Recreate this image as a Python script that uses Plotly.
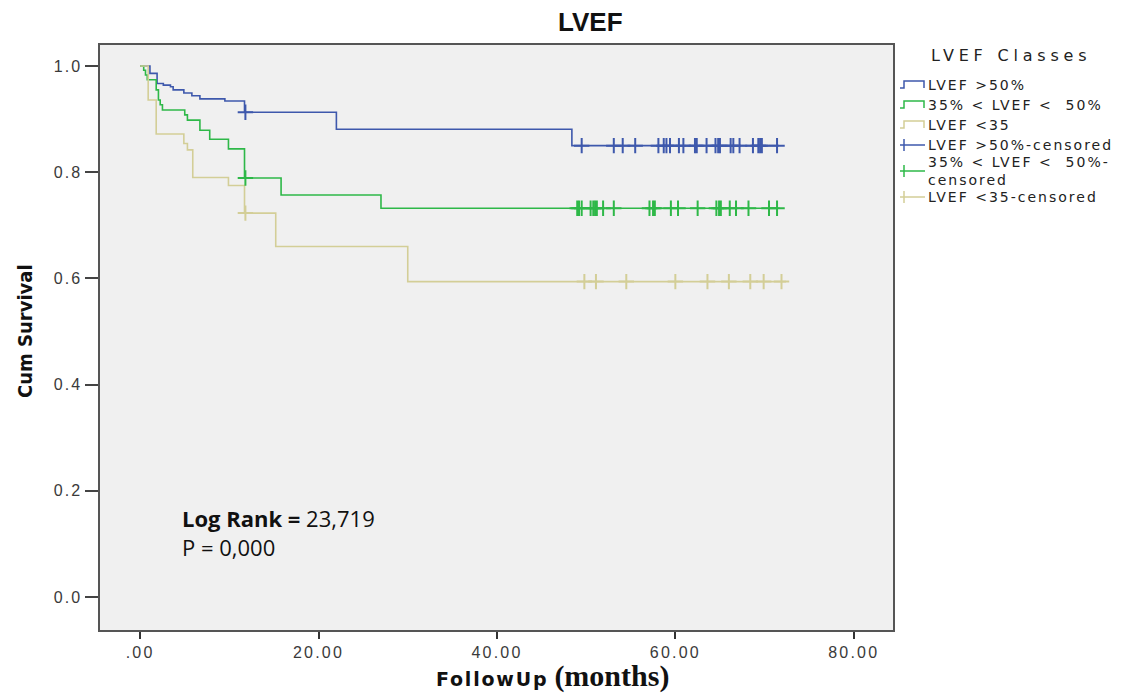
import numpy as np
import plotly.graph_objects as go

# ---------------- data ----------------
categories = ["LVEF >50%", "35% < LVEF <  50%", "LVEF <35"]
colors = ["#3E58AC", "#2EB848", "#D3CE97"]

blue_t = [0, 1.1, 1.9, 2.6, 3.4, 3.7, 4.9, 5.8, 6.7, 9.5, 11.7, 22.0, 48.4]
blue_s = [1.0, 0.986, 0.967, 0.964, 0.961, 0.955, 0.949, 0.944, 0.938, 0.934, 0.913, 0.881, 0.850]
blue_end = 71.6
blue_cens = [11.8, 49.5, 53.1, 54.1, 55.5, 58.1, 58.7, 59.0, 59.4, 60.4, 60.9, 62.2, 62.4,
             63.5, 64.5, 64.8, 65.0, 66.2, 66.5, 67.2, 68.7, 69.3, 69.5, 69.7, 71.4]

green_t = [0, 0.4, 0.6, 0.8, 1.8, 2.05, 2.25, 2.5, 5.0, 5.3, 6.7, 7.8, 9.9, 11.7, 15.8, 27.0]
green_s = [1.0, 0.992, 0.983, 0.974, 0.955, 0.936, 0.927, 0.917, 0.908, 0.898, 0.879, 0.862,
           0.844, 0.789, 0.757, 0.732]
green_end = 71.7
green_cens = [11.8, 49.0, 49.2, 49.5, 50.5, 50.8, 51.0, 51.2, 51.9, 53.1, 57.1, 57.5, 57.7,
              59.5, 60.3, 62.5, 64.6, 64.9, 65.1, 66.1, 66.8, 68.2, 70.5, 71.4]

tan_t = [0, 0.9, 1.8, 4.9, 5.3, 5.9, 9.9, 11.7, 15.2, 30.0]
tan_s = [1.0, 0.936, 0.872, 0.854, 0.842, 0.790, 0.775, 0.723, 0.660, 0.594]
tan_end = 72.4
tan_cens = [11.8, 49.8, 51.1, 54.5, 60.0, 63.6, 66.0, 68.4, 69.9, 71.9]

x_tickvals = [0, 20, 40, 60, 80]
x_ticktext = [".00", "20.00", "40.00", "60.00", "80.00"]
y_tickvals = [0.0, 0.2, 0.4, 0.6, 0.8, 1.0]
y_ticktext = ["0.0", "0.2", "0.4", "0.6", "0.8", "1.0"]

legend_labels = ["LVEF >50%", "35% < LVEF <  50%", "LVEF <35",
                 "LVEF >50%-censored", "35% < LVEF <  50%-<br>censored", "LVEF <35-censored"]

# ---------------- layout geometry ----------------
W, H = 1133, 697
L, R, T, B = 100, 240, 45, 67
PW, PH = W - L - R, H - T - B


def px(x):
    return (x - L) / PW


def py(y):
    return (H - B - y) / PH


def spaced(txt, sp):
    return "<br>".join("<span style='letter-spacing:{}px'>{}</span>".format(sp, part)
                       for part in txt.split("<br>"))


fig = go.Figure()

groups = [(blue_t, blue_s, blue_end, blue_cens),
          (green_t, green_s, green_end, green_cens),
          (tan_t, tan_s, tan_end, tan_cens)]

for (t, s, end, cens), name, col in zip(groups, categories, colors):
    fig.add_trace(go.Scatter(x=list(t) + [end], y=list(s) + [s[-1]], mode="lines",
                             line=dict(color=col, width=1.6, shape="hv"),
                             name=name, showlegend=False, hoverinfo="skip"))
for (t, s, end, cens), name, col in zip(groups, categories, colors):
    idx = np.searchsorted(np.array(t), np.array(cens), side="right") - 1
    cy = np.array(s)[idx]
    fig.add_trace(go.Scatter(x=cens, y=cy, mode="markers",
                             marker=dict(symbol="cross-thin-open", size=11, color=col,
                                         line=dict(color=col, width=2)),
                             name=name + "-censored", showlegend=False, hoverinfo="skip"))

tickfont = dict(family="Liberation Sans, Arial", size=16, color="#3a3a3a")
fig.update_xaxes(range=[-4.5, 84.4], tickvals=x_tickvals,
                 ticktext=[spaced(t, 2.2) for t in x_ticktext],
                 ticks="outside", ticklen=7, tickwidth=2, tickcolor="#333333",
                 showgrid=False, zeroline=False, showline=True, mirror=True,
                 linecolor="#555555", linewidth=1.5, tickfont=tickfont)
fig.update_yaxes(range=[-0.062, 1.0395], tickvals=y_tickvals,
                 ticktext=[spaced(t, 2) for t in y_ticktext],
                 ticks="outside", ticklen=13, tickwidth=1.5, tickcolor="#444444",
                 showgrid=False, zeroline=False, showline=True, mirror=True,
                 linecolor="#555555", linewidth=1.5, tickfont=tickfont)

ann = []
ann.append(dict(x=px(590), y=py(22), xref="paper", yref="paper", showarrow=False,
                xanchor="center", yanchor="middle",
                text="<b>LVEF</b>", font=dict(family="Liberation Sans, Arial", size=26, color="#111111")))
ann.append(dict(x=px(25), y=py(331), xref="paper", yref="paper", showarrow=False, textangle=-90,
                xanchor="center", yanchor="middle",
                text="<b>Cum Survival</b>",
                font=dict(family="DejaVu Sans Condensed, Liberation Sans Narrow, Liberation Sans",
                          size=20, color="#111111")))
ann.append(dict(x=px(552), y=py(676), xref="paper", yref="paper", showarrow=False,
                xanchor="center", yanchor="middle",
                text="<span style='letter-spacing:1.8px'><b>FollowUp</b></span> "
                     "<span style='font-family:Liberation Serif, Times New Roman; font-size:30px'><b>(months)</b></span>",
                font=dict(family="DejaVu Sans, Verdana", size=19, color="#111111")))
ann.append(dict(x=px(180), y=py(532), xref="paper", yref="paper", showarrow=False,
                xanchor="left", yanchor="middle", align="left",
                text="<b>Log Rank =</b> 23,719<br>P = 0,000",
                font=dict(family="Open Sans, Lato", size=22, color="#111111")))

# legend (manual, to match the SPSS look)
ann.append(dict(x=px(929), y=py(55), xref="paper", yref="paper", showarrow=False,
                xanchor="left", yanchor="middle", text=spaced("LVEF Classes", 4.8),
                font=dict(family="DejaVu Sans", size=16, color="#222222")))
leg_y = [85, 105, 125, 145, 171, 197]
shapes = []
for i, (lab, yy) in enumerate(zip(legend_labels, leg_y)):
    col = colors[i % 3]
    ann.append(dict(x=px(926), y=py(yy), xref="paper", yref="paper", showarrow=False,
                    xanchor="left", align="left", yanchor="middle",
                    text=spaced(lab, 2),
                    font=dict(family="DejaVu Sans", size=14, color="#222222")))
    if i < 3:
        path = "M{},{} L{},{} L{},{} L{},{} L{},{}".format(
            px(900), py(yy + 3), px(904), py(yy + 3), px(904), py(yy - 4),
            px(924), py(yy - 4), px(924), py(yy + 3))
        shapes.append(dict(type="path", path=path, xref="paper", yref="paper",
                           line=dict(color=col, width=1.5)))
    else:
        shapes.append(dict(type="line", x0=px(900), x1=px(925), y0=py(yy), y1=py(yy),
                           xref="paper", yref="paper", line=dict(color=col, width=1.5)))
        shapes.append(dict(type="line", x0=px(904), x1=px(904), y0=py(yy - 6), y1=py(yy + 6),
                           xref="paper", yref="paper", line=dict(color=col, width=1.5)))

fig.update_layout(width=W, height=H, margin=dict(l=L, r=R, t=T, b=B),
                  paper_bgcolor="white", plot_bgcolor="#F0F0F0",
                  annotations=ann, shapes=shapes, showlegend=False)

fig.write_html("out.html")
